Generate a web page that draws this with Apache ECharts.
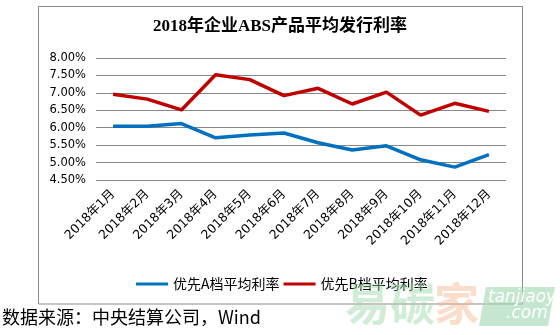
<!DOCTYPE html>
<html><head><meta charset="utf-8">
<script src="https://cdn.jsdelivr.net/npm/echarts@6/dist/echarts.min.js"></script>
<style>html,body{margin:0;padding:0;background:#fff}#c{width:560px;height:335px}</style>
</head><body><div id="c"></div>
<script>
const categories = ['2018年1月','2018年2月','2018年3月','2018年4月','2018年5月','2018年6月','2018年7月','2018年8月','2018年9月','2018年10月','2018年11月','2018年12月'];
const seriesAName = '优先A档平均利率';
const seriesBName = '优先B档平均利率';
const seriesA = [6.04, 6.04, 6.12, 5.71, 5.79, 5.85, 5.57, 5.36, 5.48, 5.08, 4.87, 5.23];
const seriesB = [6.96, 6.82, 6.51, 7.52, 7.38, 6.92, 7.13, 6.68, 7.02, 6.36, 6.70, 6.47];
const titleText = '2018年企业ABS产品平均发行利率';
const sourceText = '数据来源：中央结算公司，Wind';

const chart = echarts.init(document.getElementById('c'));
chart.setOption({
  animation: false,
  title: {
    text: titleText, left: 'center', top: 18, padding: 0,
    textStyle: {fontFamily: '"Liberation Serif","Noto Sans CJK SC"', fontWeight: 'bold', fontSize: 17, color: '#000'}
  },
  grid: {left: 96, right: 54, top: 58, bottom: 155},
  legend: {
    left: 131, top: 272, itemWidth: 32, itemHeight: 3, itemGap: 4,
    icon: 'rect',
    textStyle: {fontFamily: '"Noto Sans CJK SC"', fontSize: 14, color: '#000', padding: [0,0,0,0]},
    data: [
      {name: seriesAName, itemStyle: {color: '#0070C0'}},
      {name: seriesBName, itemStyle: {color: '#C00000'}}
    ]
  },
  xAxis: {
    type: 'category', data: categories, boundaryGap: true,
    axisLine: {show: false}, axisTick: {show: false},
    axisLabel: {rotate: 45, margin: 12, fontFamily: '"DejaVu Sans","Noto Sans CJK SC"', fontSize: 12.5, color: '#000', interval: 0}
  },
  yAxis: {
    type: 'value', min: 4.5, max: 8, interval: 0.5,
    axisLine: {show: false}, axisTick: {show: false},
    splitLine: {lineStyle: {color: '#888', width: 1}},
    axisLabel: {margin: 10, fontFamily: '"DejaVu Sans"', fontSize: 11.5, color: '#000', formatter: v => v.toFixed(2) + '%'}
  },
  series: [
    {name: seriesAName, type: 'line', data: seriesA, symbol: 'none', lineStyle: {color: '#0070C0', width: 3.5}, itemStyle: {color: '#0070C0'}},
    {name: seriesBName, type: 'line', data: seriesB, symbol: 'none', lineStyle: {color: '#C00000', width: 3.5}, itemStyle: {color: '#C00000'}}
  ],
  graphic: [
    {type: 'rect', shape: {x: 38.5, y: 6.5, width: 484, height: 297.5}, style: {fill: 'none', stroke: '#898989', lineWidth: 1}, z: 1},
    {type: 'text', left: 2, top: 308, style: {text: sourceText, font: '18px "Noto Sans CJK SC"', fill: '#000'}, z: 5},
    {type: 'text', x: 345, y: 281, style: {text: '易碳', font: 'bold 45px "Noto Sans CJK SC"', fill: 'rgba(150,210,165,0.45)'}, z: 10},
    {type: 'text', x: 434, y: 281, style: {text: '家', font: 'bold 45px "Noto Sans CJK SC"', fill: 'rgba(245,180,140,0.45)'}, z: 10},
    {type: 'polygon', shape: {points: [[486,287],[555,287],[548,326],[479,326]]}, style: {fill: 'rgba(160,215,175,0.6)'}, z: 10},
    {type: 'text', x: 488, y: 289, style: {text: 'tanjiaoyi', font: 'italic 17px "DejaVu Sans"', fill: '#fff'}, z: 11},
    {type: 'text', x: 506, y: 305, style: {text: '.com', font: 'italic 17px "DejaVu Sans"', fill: '#fff'}, z: 11}
  ]
});
</script></body></html>
